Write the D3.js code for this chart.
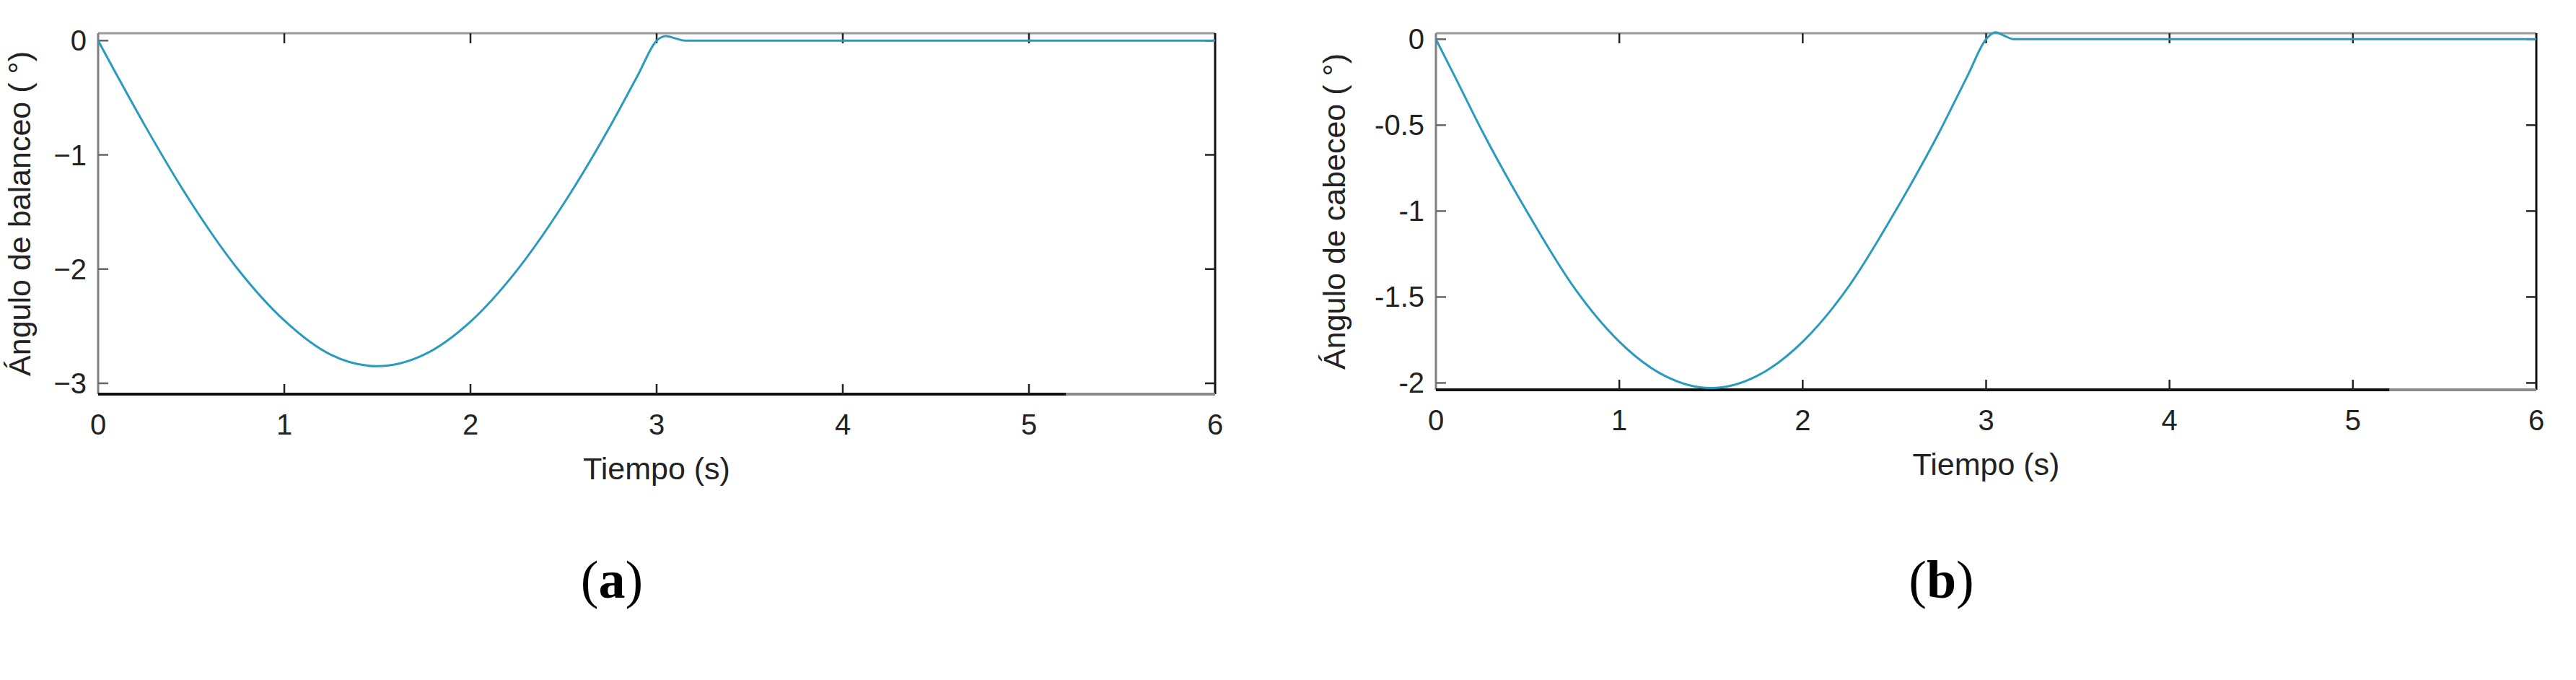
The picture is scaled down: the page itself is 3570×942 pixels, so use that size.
<!DOCTYPE html>
<html>
<head>
<meta charset="utf-8">
<script src="https://cdn.jsdelivr.net/npm/d3@7"></script>
<style>
  body { margin: 0; background: #fff; }
  svg { display: block; }
  .tick-label { font-family: "Liberation Sans", Arial, sans-serif; font-size: 40px; fill: #222; }
  .axis-title { font-family: "Liberation Sans", Arial, sans-serif; font-size: 43px; fill: #222; }
  .panel-label { font-family: "Liberation Serif", "DejaVu Serif", serif; font-size: 74px; fill: #000; }
</style>
</head>
<body>
<div id="chart"></div>
<script>
// time axis shared by both panels (s)
let timeTicks = [0, 1, 2, 3, 4, 5, 6]

// (a) roll angle, degrees
let rollTime = [0, 0.1, 0.25, 0.5, 0.75, 1.0, 1.25, 1.5, 1.75, 2.0, 2.25, 2.5, 2.75, 2.9, 3.0, 3.05, 3.1, 3.15, 3.2, 4, 5, 6]
let rollAngle = [0, -0.3, -0.74, -1.42, -2.0, -2.45, -2.75, -2.85, -2.75, -2.46, -2.01, -1.43, -0.75, -0.3, 0.0, 0.04, 0.02, 0.0, 0.0, 0.0, 0.0, 0.0]
let rollTicks = [0, -1, -2, -3]
let rollTickLabels = ['0', '\u22121', '\u22122', '\u22123']

// (b) pitch angle, degrees
let pitchTime = [0, 0.1, 0.25, 0.5, 0.75, 1.0, 1.25, 1.5, 1.75, 2.0, 2.25, 2.5, 2.75, 2.9, 3.0, 3.05, 3.1, 3.15, 3.2, 4, 5, 6]
let pitchAngle = [0, -0.21, -0.53, -1.01, -1.44, -1.76, -1.96, -2.03, -1.96, -1.76, -1.44, -1.01, -0.53, -0.21, 0.0, 0.04, 0.02, 0.0, 0.0, 0.0, 0.0, 0.0]
let pitchTicks = [0, -0.5, -1, -1.5, -2]
let pitchTickLabels = ['0', '-0.5', '-1', '-1.5', '-2']

let panels = [
  {left: 136, right: 1684, top: 46, bottom: 546, domain: [-3.095, 0.065],
   t: rollTime, v: rollAngle, ticks: rollTicks, labels: rollTickLabels,
   ytitle: 'Ángulo de balanceo ( °)', titleX: 42, tag: 'a'},
  {left: 1990, right: 3515, top: 46, bottom: 540, domain: [-2.04, 0.035],
   t: pitchTime, v: pitchAngle, ticks: pitchTicks, labels: pitchTickLabels,
   ytitle: 'Ángulo de cabeceo ( °)', titleX: 1864, tag: 'b'}
]

let svg = d3.select('#chart').append('svg')
  .attr('width', 3570)
  .attr('height', 942)

panels.forEach(p => {
  let x = d3.scaleLinear().domain([0, 6]).range([p.left, p.right])
  let y = d3.scaleLinear().domain(p.domain).range([p.bottom, p.top])
  let g = svg.append('g')

  // box: the scan shows grey top/left edges and a black right/bottom edge
  g.append('line').attr('x1', p.left).attr('x2', p.right).attr('y1', p.top).attr('y2', p.top)
    .attr('stroke', '#9a9a9a').attr('stroke-width', 3)
  g.append('line').attr('x1', p.left).attr('x2', p.left).attr('y1', p.top).attr('y2', p.bottom)
    .attr('stroke', '#808080').attr('stroke-width', 3)
  g.append('line').attr('x1', p.right).attr('x2', p.right).attr('y1', p.top).attr('y2', p.bottom)
    .attr('stroke', '#111').attr('stroke-width', 3)
  g.append('line').attr('x1', p.left).attr('x2', x(5.2)).attr('y1', p.bottom).attr('y2', p.bottom)
    .attr('stroke', '#111').attr('stroke-width', 4)
  g.append('line').attr('x1', x(5.2)).attr('x2', p.right).attr('y1', p.bottom).attr('y2', p.bottom)
    .attr('stroke', '#8a8a8a').attr('stroke-width', 4)

  // inward ticks on all four sides
  let inner = timeTicks.filter(d => d > 0 && d < 6)
  g.selectAll('.xt-bottom').data(inner).enter().append('line')
    .attr('x1', d => x(d)).attr('x2', d => x(d))
    .attr('y1', p.bottom).attr('y2', p.bottom - 14)
    .attr('stroke', '#222').attr('stroke-width', 2.5)
  g.selectAll('.xt-top').data(inner).enter().append('line')
    .attr('x1', d => x(d)).attr('x2', d => x(d))
    .attr('y1', p.top).attr('y2', p.top + 14)
    .attr('stroke', '#222').attr('stroke-width', 2.5)
  g.selectAll('.yt-left').data(p.ticks).enter().append('line')
    .attr('x1', p.left).attr('x2', p.left + 14)
    .attr('y1', d => y(d)).attr('y2', d => y(d))
    .attr('stroke', '#666').attr('stroke-width', 2.5)
  g.selectAll('.yt-right').data(p.ticks).enter().append('line')
    .attr('x1', p.right).attr('x2', p.right - 14)
    .attr('y1', d => y(d)).attr('y2', d => y(d))
    .attr('stroke', '#222').attr('stroke-width', 2.5)

  g.selectAll('.xl').data(timeTicks).enter().append('text')
    .attr('class', 'tick-label')
    .attr('x', d => x(d)).attr('y', p.bottom + 56)
    .attr('text-anchor', 'middle')
    .text(d => d)
  g.selectAll('.yl').data(p.ticks).enter().append('text')
    .attr('class', 'tick-label')
    .attr('x', p.left - 16).attr('y', d => y(d) + 14)
    .attr('text-anchor', 'end')
    .text((d, i) => p.labels[i])

  g.append('text').attr('class', 'axis-title')
    .attr('x', (p.left + p.right) / 2).attr('y', p.bottom + 118)
    .attr('text-anchor', 'middle')
    .text('Tiempo (s)')
  g.append('text').attr('class', 'axis-title')
    .attr('transform', `translate(${p.titleX},${(p.top + p.bottom) / 2}) rotate(-90)`)
    .attr('text-anchor', 'middle')
    .text(p.ytitle)

  let line = d3.line()
    .x((d, i) => x(p.t[i]))
    .y(d => y(d))
    .curve(d3.curveMonotoneX)
  g.append('path')
    .datum(p.v)
    .attr('d', line)
    .attr('fill', 'none')
    .attr('stroke', '#2a9bbf')
    .attr('stroke-width', 3)

  let tag = g.append('text').attr('class', 'panel-label')
    .attr('x', (p.left + p.right) / 2 - 62).attr('y', 828)
    .attr('text-anchor', 'middle')
  tag.append('tspan').text('(')
  tag.append('tspan').attr('font-weight', 'bold').text(p.tag)
  tag.append('tspan').text(')')
})
</script>
</body>
</html>
